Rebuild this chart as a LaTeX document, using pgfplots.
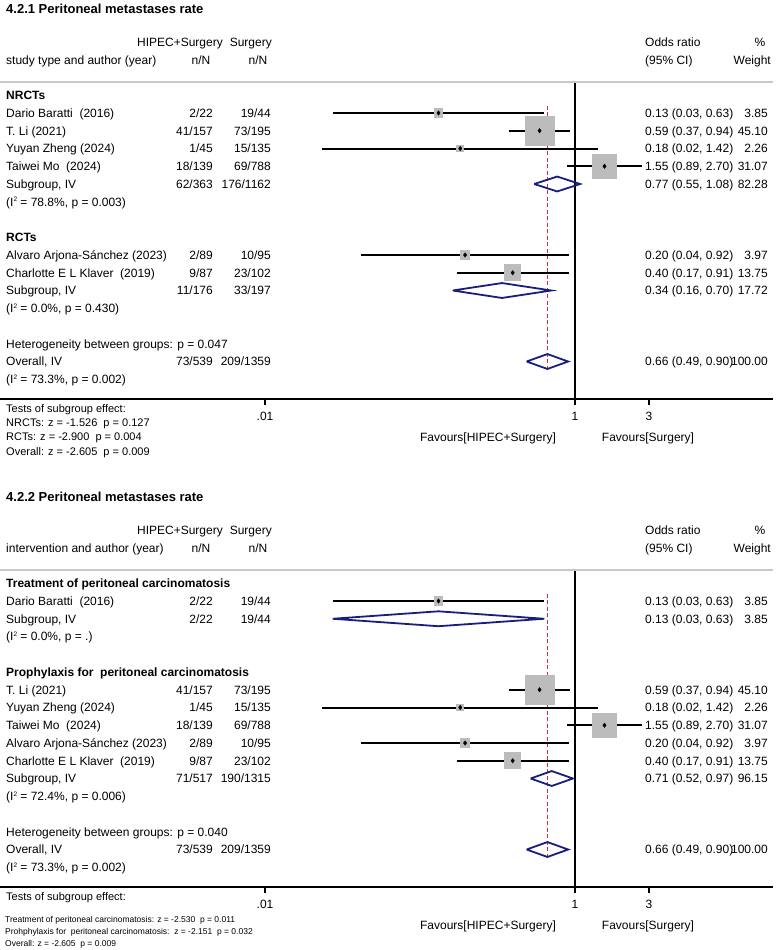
\documentclass[border=0pt]{standalone}
\usepackage{pgfplots}
\pgfplotsset{compat=1.18}
\usepackage{fontspec}
\setmainfont{Liberation Sans}

\definecolor{boxgray}{RGB}{188,188,188}
\definecolor{diamblue}{RGB}{25,30,125}
\definecolor{refred}{RGB}{205,45,65}
\definecolor{rulegray}{RGB}{200,200,200}

\tikzset{
  ciline/.style={draw=black, line width=2pt},
  dia/.style={draw=diamblue, line width=1.8pt, line join=miter},
}

% study: row, OR, lower, upper, weight (box area proportional to weight)
\newcommand\study[5]{%
  \addplot[boxgray, only marks, mark=square*, mark options={draw=boxgray, fill=boxgray, line width=0pt},
    mark size={2.16*sqrt(#5)}] coordinates {(#2,#1)};
  \addplot[ciline, mark=none] coordinates {(#3,#1) (#4,#1)};
  \addplot[black, only marks, mark=diamond*, mark size=2.2pt, mark options={fill=black, draw=black, line width=0.4pt}] coordinates {(#2,#1)};
}

\begin{document}
\begin{tikzpicture}
\useasboundingbox (0pt,0pt) rectangle (778pt,-950pt);

% ---------- 4.2.1 by study type ----------
\begin{axis}[at={(0pt,-399pt)},
    anchor=south west, scale only axis, width=773pt, height=317pt,
    xmode=log, xmin=1.95124e-4, xmax=18.943,
    y dir=reverse, ymin=-0.74648, ymax=17.11268,
    axis y line=none, axis x line*=bottom,
    x axis line style={line width=1.5pt},
    xtick={0.01,1,3}, xticklabels={.01,1,3},
    tick align=outside, major tick length=6pt,
    tick style={black, line width=1.2pt},
    xticklabel style={font=\fontsize{12}{14}\selectfont, anchor=north, inner sep=0pt, yshift=-6.7pt},
    clip=false]
  \addplot[draw=black, line width=1.5pt, mark=none] coordinates {(1,-0.74648) (1,17.11268)};
  \addplot[color=refred, line width=1.7pt, dash pattern=on 4pt off 2.5pt, mark=none] coordinates {(0.66368,0.6) (0.66368,15.42)};
  \study{1}{0.13158}{0.02734}{0.63325}{3.85}
  \study{2}{0.59069}{0.37317}{0.93501}{45.10}
  \study{3}{0.18182}{0.02332}{1.41731}{2.26}
  \study{4}{1.55013}{0.89137}{2.69577}{31.07}
  \study{9}{0.19540}{0.04157}{0.91814}{3.97}
  \study{10}{0.39632}{0.17253}{0.91044}{13.75}
  \addplot[dia, mark=none] coordinates {(0.54618,5) (0.76737,4.58) (1.07814,5) (0.76737,5.42) (0.54618,5)};
  \addplot[dia, mark=none] coordinates {(0.16258,11) (0.33821,10.58) (0.70360,11) (0.33821,11.42) (0.16258,11)};
  \addplot[dia, mark=none] coordinates {(0.48754,15) (0.66368,14.58) (0.90342,15) (0.66368,15.42) (0.48754,15)};
\end{axis}

% ---------- 4.2.2 by intervention ----------
\begin{axis}[at={(0pt,-887pt)},
    anchor=south west, scale only axis, width=773pt, height=317pt,
    xmode=log, xmin=1.95124e-4, xmax=18.943,
    y dir=reverse, ymin=-0.74648, ymax=17.11268,
    axis y line=none, axis x line*=bottom,
    x axis line style={line width=1.5pt},
    xtick={0.01,1,3}, xticklabels={.01,1,3},
    tick align=outside, major tick length=6pt,
    tick style={black, line width=1.2pt},
    xticklabel style={font=\fontsize{12}{14}\selectfont, anchor=north, inner sep=0pt, yshift=-6.7pt},
    clip=false]
  \addplot[draw=black, line width=1.5pt, mark=none] coordinates {(1,-0.74648) (1,17.11268)};
  \addplot[color=refred, line width=1.7pt, dash pattern=on 4pt off 2.5pt, mark=none] coordinates {(0.66368,0.6) (0.66368,15.42)};
  \study{1}{0.13158}{0.02734}{0.63325}{3.85}
  \study{6}{0.59069}{0.37317}{0.93501}{45.10}
  \study{7}{0.18182}{0.02332}{1.41731}{2.26}
  \study{8}{1.55013}{0.89137}{2.69577}{31.07}
  \study{9}{0.19540}{0.04157}{0.91814}{3.97}
  \study{10}{0.39632}{0.17253}{0.91044}{13.75}
  \addplot[dia, mark=none] coordinates {(0.02734,2) (0.13158,1.58) (0.63325,2) (0.13158,2.42) (0.02734,2)};
  \addplot[dia, mark=none] coordinates {(0.51701,11) (0.70812,10.58) (0.96986,11) (0.70812,11.42) (0.51701,11)};
  \addplot[dia, mark=none] coordinates {(0.48754,15) (0.66368,14.58) (0.90342,15) (0.66368,15.42) (0.48754,15)};
\end{axis}

% ---------- text columns ----------
\begin{scope}[x=1pt, y=-1pt, font=\fontsize{12}{14}\selectfont,
  lt/.style={anchor=base west, inner sep=0pt},
  rt/.style={anchor=base east, inner sep=0pt},
  ct/.style={anchor=base, inner sep=0pt}]
  \newcommand\by[1]{\off+99.55+17.75*#1}
  \newcommand\row[6]{%
    \node[lt] at (6,{\by{#1}}) {#2};
    \node[rt] at (213,{\by{#1}}) {#3};
    \node[rt] at (271,{\by{#1}}) {#4};
    \node[lt] at (645,{\by{#1}}) {#5};
    \node[rt] at (768,{\by{#1}}) {#6};}
  \newcommand\lbl[2]{\node[lt] at (6,{\by{#1}}) {#2};}
  \newcommand\hlbl[2]{\node[lt, font=\fontsize{12}{14}\selectfont\bfseries] at (6,{\by{#1}}) {#2};}
  \newcommand\sq{\raisebox{4.5pt}{\fontsize{6.5}{7}\selectfont 2}}
  \newcommand\header[2]{%
    \node[lt, font=\fontsize{13}{15}\selectfont\bfseries] at (6,{\off+13.5}) {#1};
    \node[rt] at (223,{\off+46.3}) {HIPEC+Surgery};
    \node[rt] at (272,{\off+46.3}) {Surgery};
    \node[lt] at (6,{\off+64.3}) {#2};
    \node[ct] at (201,{\off+64.3}) {n/N};
    \node[ct] at (258,{\off+64.3}) {n/N};
    \node[lt] at (645,{\off+46.3}) {Odds ratio};
    \node[ct] at (760,{\off+46.3}) {\%};
    \node[lt] at (645,{\off+64.3}) {(95\% CI)};
    \node[rt] at (771,{\off+64.3}) {Weight};
    \draw[rulegray, line width=1.2pt] (0,{\off+82}) -- (773,{\off+82});
    \node[ct] at (488,{\off+441.5}) {Favours[HIPEC+Surgery]};
    \node[ct] at (648,{\off+441.5}) {Favours[Surgery]};}

  % top panel
  \def\off{0}
  \header{4.2.1 Peritoneal metastases rate}{study type and author (year)}
  \hlbl{0}{NRCTs}
  \row{1}{Dario Baratti\ \ (2016)}{2/22}{19/44}{0.13 (0.03, 0.63)}{3.85}
  \row{2}{T. Li (2021)}{41/157}{73/195}{0.59 (0.37, 0.94)}{45.10}
  \row{3}{Yuyan Zheng (2024)}{1/45}{15/135}{0.18 (0.02, 1.42)}{2.26}
  \row{4}{Taiwei Mo\ \ (2024)}{18/139}{69/788}{1.55 (0.89, 2.70)}{31.07}
  \row{5}{Subgroup, IV}{62/363}{176/1162}{0.77 (0.55, 1.08)}{82.28}
  \lbl{6}{(I\sq\ = 78.8\%, p = 0.003)}
  \hlbl{8}{RCTs}
  \row{9}{Alvaro Arjona-Sánchez (2023)}{2/89}{10/95}{0.20 (0.04, 0.92)}{3.97}
  \row{10}{Charlotte E L Klaver\ \ (2019)}{9/87}{23/102}{0.40 (0.17, 0.91)}{13.75}
  \row{11}{Subgroup, IV}{11/176}{33/197}{0.34 (0.16, 0.70)}{17.72}
  \lbl{12}{(I\sq\ = 0.0\%, p = 0.430)}
  \lbl{14}{Heterogeneity between groups: p = 0.047}
  \row{15}{Overall, IV}{73/539}{209/1359}{0.66 (0.49, 0.90)}{100.00}
  \lbl{16}{(I\sq\ = 73.3\%, p = 0.002)}
  \begin{scope}[font=\fontsize{11}{13}\selectfont]
    \node[lt] at (6,412) {Tests of subgroup effect:};
    \node[lt] at (6,426.4) {NRCTs: z = -1.526\ \ p = 0.127};
    \node[lt] at (6,440.9) {RCTs: z = -2.900\ \ p = 0.004};
    \node[lt] at (6,455.4) {Overall: z = -2.605\ \ p = 0.009};
  \end{scope}

  % bottom panel
  \def\off{488}
  \header{4.2.2 Peritoneal metastases rate}{intervention and author (year)}
  \hlbl{0}{Treatment of peritoneal carcinomatosis}
  \row{1}{Dario Baratti\ \ (2016)}{2/22}{19/44}{0.13 (0.03, 0.63)}{3.85}
  \row{2}{Subgroup, IV}{2/22}{19/44}{0.13 (0.03, 0.63)}{3.85}
  \lbl{3}{(I\sq\ = 0.0\%, p = .)}
  \hlbl{5}{Prophylaxis for\ \ peritoneal carcinomatosis}
  \row{6}{T. Li (2021)}{41/157}{73/195}{0.59 (0.37, 0.94)}{45.10}
  \row{7}{Yuyan Zheng (2024)}{1/45}{15/135}{0.18 (0.02, 1.42)}{2.26}
  \row{8}{Taiwei Mo\ \ (2024)}{18/139}{69/788}{1.55 (0.89, 2.70)}{31.07}
  \row{9}{Alvaro Arjona-Sánchez (2023)}{2/89}{10/95}{0.20 (0.04, 0.92)}{3.97}
  \row{10}{Charlotte E L Klaver\ \ (2019)}{9/87}{23/102}{0.40 (0.17, 0.91)}{13.75}
  \row{11}{Subgroup, IV}{71/517}{190/1315}{0.71 (0.52, 0.97)}{96.15}
  \lbl{12}{(I\sq\ = 72.4\%, p = 0.006)}
  \lbl{14}{Heterogeneity between groups: p = 0.040}
  \row{15}{Overall, IV}{73/539}{209/1359}{0.66 (0.49, 0.90)}{100.00}
  \lbl{16}{(I\sq\ = 73.3\%, p = 0.002)}
  \node[lt, font=\fontsize{11}{13}\selectfont] at (6,900) {Tests of subgroup effect:};
  \begin{scope}[font=\fontsize{8.5}{10}\selectfont]
    \node[lt] at (5,922) {Treatment of peritoneal carcinomatosis: z = -2.530\ \ p = 0.011};
    \node[lt] at (5,934) {Prohphylaxis for\ \ peritoneal carcinomatosis:\ \ z = -2.151\ \ p = 0.032};
    \node[lt] at (5,946) {Overall: z = -2.605\ \ p = 0.009};
  \end{scope}
\end{scope}
\end{tikzpicture}
\end{document}
